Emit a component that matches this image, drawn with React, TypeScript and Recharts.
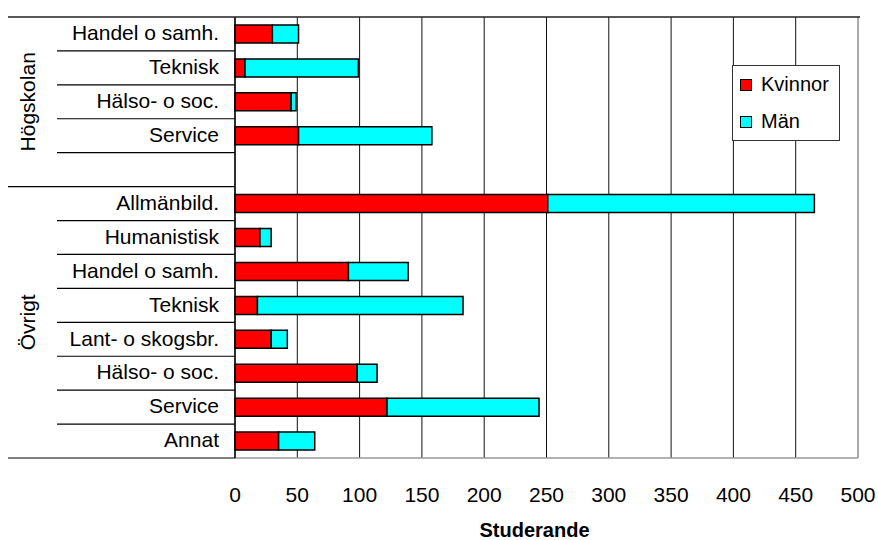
import React from 'react'
import { BarChart, Bar, XAxis, YAxis, CartesianGrid, Legend, ReferenceLine } from 'recharts'

// rows top to bottom; the empty row separates the two groups
const categories = [
  'Handel o samh.', 'Teknisk', 'Hälso- o soc.', 'Service', '',
  'Allmänbild.', 'Humanistisk', 'Handel o samh.', 'Teknisk',
  'Lant- o skogsbr.', 'Hälso- o soc.', 'Service', 'Annat',
]
const kvinnor = [30, 8, 45, 51, null, 251, 20, 91, 18, 29, 98, 122, 35]
const man = [21, 91, 4, 107, null, 214, 9, 48, 165, 13, 16, 122, 29]
const groups = [
  { name: 'Högskolan', first: 0, last: 4 },
  { name: 'Övrigt', first: 5, last: 12 },
]
const xTicks = [0, 50, 100, 150, 200, 250, 300, 350, 400, 450, 500]

const data = categories.map((label, i) => ({ key: `r${i}`, label, kvinnor: kvinnor[i], man: man[i] }))

const FONT = '"Liberation Sans", Arial, sans-serif'
const ROW_HALF = (458 - 17) / categories.length / 2

function CategoryTick(props: any) {
  const { y, payload, index } = props
  const half = payload && payload.offset ? payload.offset : ROW_HALF
  const groupEnd = groups.some(g => g.last === index)
  const group = groups.find(g => g.first === index)
  return (
    <g>
      {index === 0 && <line x1={8} x2={860} y1={y - half} y2={y - half} stroke="#222" strokeWidth={1.3} />}
      <line x1={groupEnd ? 8 : 57} x2={235} y1={y + half} y2={y + half} stroke="#000" strokeWidth={1.2} />
      <text x={219} y={y} dy="0.3em" textAnchor="end" fontSize={21} fill="#000" fontFamily={FONT}>
        {categories[index]}
      </text>
      {group && (
        <text
          x={0}
          y={0}
          transform={`translate(28, ${y - half + (group.last - group.first + 1) * half}) rotate(-90)`}
          dy="0.35em"
          textAnchor="middle"
          fontSize={21}
          fill="#000"
          fontFamily={FONT}
        >
          {group.name}
        </text>
      )}
    </g>
  )
}

function LegendBox() {
  const items = [
    { name: 'Kvinnor', color: '#FF0000' },
    { name: 'Män', color: '#00FFFF' },
  ]
  return (
    <div style={{ width: 108, height: 76, boxSizing: 'border-box', border: '1px solid #333', background: '#fff', fontFamily: FONT }}>
      {items.map(it => (
        <div key={it.name} style={{ height: 37, display: 'flex', alignItems: 'center' }}>
          <span style={{ width: 10, height: 10, border: '1.5px solid #000', background: it.color, marginLeft: 7 }} />
          <span style={{ fontSize: 20, marginLeft: 9, color: '#000' }}>{it.name}</span>
        </div>
      ))}
    </div>
  )
}

export default function App() {
  return (
    <div style={{ position: 'absolute', left: 0, top: 0, width: 878, height: 540, fontFamily: FONT }}>
      <BarChart width={878} height={540} data={data} layout="vertical" margin={{ top: 17, right: 20, bottom: 0, left: 0 }}>
        <CartesianGrid horizontal={false} stroke="#111" />
        <XAxis
          type="number"
          domain={[0, 500]}
          ticks={xTicks}
          height={82}
          tickLine={false}
          tickSize={0}
          tickMargin={29}
          axisLine={{ stroke: '#999', strokeWidth: 1.5 }}
          tick={{ fill: '#000', fontSize: 21, fontFamily: FONT }}
          label={{ value: 'Studerande', position: 'insideBottom', offset: 3, dx: -12, fill: '#000', fontSize: 20, fontWeight: 'bold', fontFamily: FONT }}
        />
        <YAxis
          type="category"
          dataKey="key"
          width={235}
          interval={0}
          tickLine={false}
          axisLine={{ stroke: '#000', strokeWidth: 1.3 }}
          tick={<CategoryTick />}
        />
        <ReferenceLine x={500} stroke="#aaa" strokeWidth={2} />
        <Bar dataKey="kvinnor" stackId="a" fill="#FF0000" stroke="#000" strokeWidth={1.5} barSize={18} isAnimationActive={false} />
        <Bar dataKey="man" stackId="a" fill="#00FFFF" stroke="#000" strokeWidth={1.5} barSize={18} isAnimationActive={false} />
        <Legend
          layout="vertical"
          align="center"
          verticalAlign="middle"
          wrapperStyle={{ left: 732, top: 65, width: 108, height: 76 }}
          content={() => <LegendBox />}
        />
      </BarChart>
    </div>
  )
}
